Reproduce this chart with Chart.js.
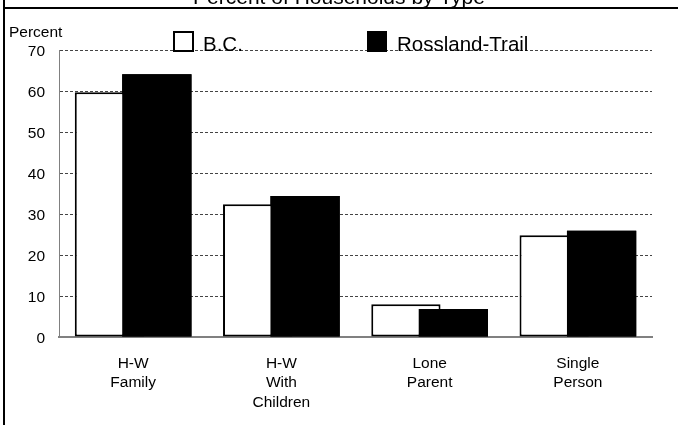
<!DOCTYPE html>
<html>
<head>
    <title>Percent of Households by Type</title>
    <script src="https://cdn.jsdelivr.net/npm/chart.js"></script>
    <style>
        body { margin: 0; background: #fff; }
    </style>
</head>
<body>
    <canvas id="myChart" width="678" height="425"></canvas>

    <script>
        const categories = [['H-W', 'Family'], ['H-W', 'With', 'Children'], ['Lone', 'Parent'], ['Single', 'Person']];
        const bcValues = [59.7, 32.4, 8.0, 24.8];
        const rosslandValues = [64.1, 34.4, 6.8, 25.9];
        const seriesNames = ['B.C.', 'Rossland-Trail'];
        const chartTitle = 'Percent of Households by Type';
        const yAxisTitle = 'Percent';

        const FONT = "'Liberation Sans', Arial, sans-serif";

        // frame, cut-off title, axis caption and legend drawn straight onto the canvas
        const framePlugin = {
            id: 'frame',
            beforeDraw(chart) {
                const ctx = chart.ctx;
                ctx.save();
                ctx.fillStyle = '#fff';
                ctx.fillRect(0, 0, chart.width, chart.height);
                ctx.restore();
            },
            afterDatasetsDraw(chart) {
                // black bars sit on top of the white ones
                chart.getDatasetMeta(1).controller.draw();
            },
            afterDraw(chart) {
                const ctx = chart.ctx;
                ctx.save();
                ctx.strokeStyle = '#000';
                ctx.lineWidth = 2;
                ctx.beginPath();
                ctx.moveTo(4, 0);
                ctx.lineTo(4, chart.height);
                ctx.moveTo(3, 8);
                ctx.lineTo(chart.width, 8);
                ctx.stroke();

                ctx.fillStyle = '#000';
                ctx.textBaseline = 'alphabetic';
                ctx.font = '21px ' + FONT;
                ctx.textAlign = 'center';
                ctx.fillText(chartTitle, 339, 4);

                ctx.textAlign = 'left';
                ctx.font = '15.5px ' + FONT;
                ctx.fillText(yAxisTitle, 9, 37);

                // legend
                ctx.font = '20.5px ' + FONT;
                ctx.lineWidth = 2;
                ctx.fillStyle = '#fff';
                ctx.fillRect(174, 32, 19, 19);
                ctx.strokeRect(174, 32, 19, 19);
                ctx.fillStyle = '#000';
                ctx.fillText(seriesNames[0], 203, 51);
                ctx.fillRect(367, 31, 20, 21);
                ctx.fillText(seriesNames[1], 397, 51);
                ctx.restore();
            }
        };

        const ctx = document.getElementById('myChart').getContext('2d');

        window.myChart = new Chart(ctx, {
            type: 'bar',
            data: {
                labels: categories,
                datasets: [
                    {
                        label: seriesNames[0],
                        data: bcValues,
                        backgroundColor: '#fff',
                        borderColor: '#000',
                        borderWidth: 2,
                        borderSkipped: false,
                        barPercentage: 1.46,
                        categoryPercentage: 0.64
                    },
                    {
                        label: seriesNames[1],
                        data: rosslandValues,
                        backgroundColor: '#000',
                        borderColor: '#000',
                        borderWidth: 0,
                        barPercentage: 1.46,
                        categoryPercentage: 0.64
                    }
                ]
            },
            options: {
                responsive: false,
                animation: false,
                events: [],
                layout: {
                    padding: { left: 0, right: 26, top: 50, bottom: 0 }
                },
                plugins: {
                    legend: { display: false },
                    tooltip: { enabled: false },
                    title: { display: false }
                },
                scales: {
                    x: {
                        grid: { display: false },
                        border: { display: true, color: '#808080', width: 2 },
                        ticks: {
                            color: '#000',
                            font: { family: FONT, size: 15.5, lineHeight: 1.25 },
                            padding: 9,
                            maxRotation: 0,
                            autoSkip: false
                        },
                        afterFit: scale => { scale.height = 88; }
                    },
                    y: {
                        min: 0,
                        max: 70,
                        grid: {
                            drawTicks: false,
                            tickLength: 0,
                            lineWidth: 1,
                            color: c => c.tick && c.tick.value === 0 ? 'rgba(0,0,0,0)' : '#444'
                        },
                        border: { display: true, color: '#808080', width: 1, dash: [3, 2] },
                        ticks: {
                            stepSize: 10,
                            color: '#000',
                            font: { family: FONT, size: 15.5 },
                            padding: 14,
                            labelOffset: 2
                        },
                        afterFit: scale => { scale.width = 59; }
                    }
                }
            },
            plugins: [framePlugin]
        });
    </script>
</body>
</html>
